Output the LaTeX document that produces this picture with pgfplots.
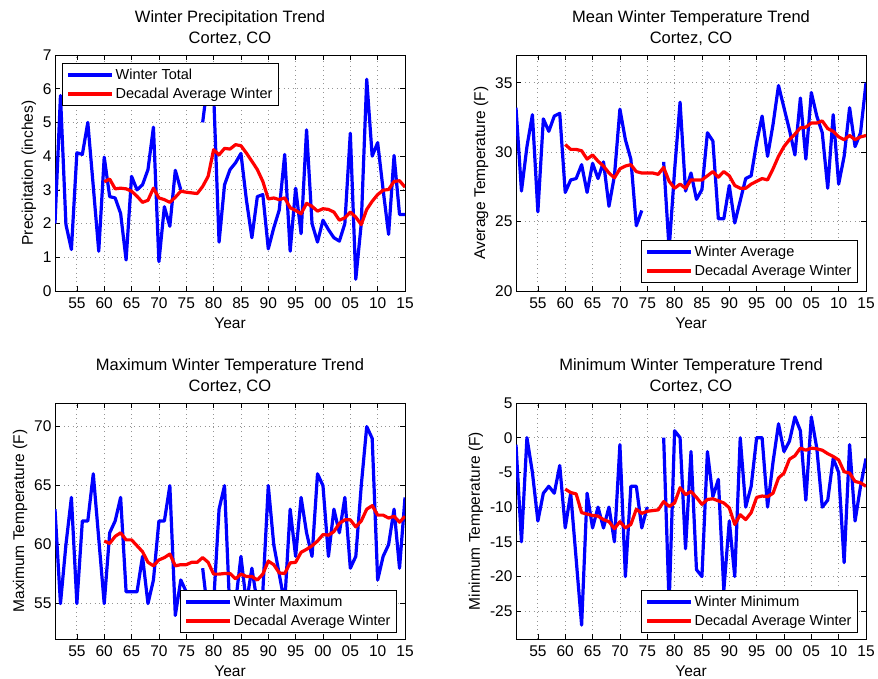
\documentclass[border=0pt]{standalone}
\usepackage{fontspec}
\setmainfont{Liberation Sans}
\usepackage{pgfplots}
\usepackage{pgfplotstable}
\pgfplotsset{compat=1.18}

% winter precipitation (inches)
\pgfplotstableread{
year tot dec
1951 2.0 nan
1952 5.8 nan
1953 1.97 nan
1954 1.23 nan
1955 4.1 nan
1956 4.05 nan
1957 5.0 nan
1958 3.1 nan
1959 1.18 nan
1960 3.97 3.24
1961 2.8 3.32
1962 2.76 3.03
1963 2.3 3.05
1964 0.92 3.03
1965 3.4 2.96
1966 3.0 2.81
1967 3.15 2.63
1968 3.6 2.69
1969 4.86 3.05
1970 0.87 2.76
1971 2.5 2.71
1972 1.92 2.63
1973 3.58 2.78
1974 3.0 2.96
1975 nan 2.93
1976 nan 2.91
1977 nan 2.89
1978 5.0 3.1
1979 6.3 3.4
1980 5.9 4.19
1981 1.45 4.04
1982 3.15 4.23
1983 3.6 4.21
1984 3.8 4.34
1985 4.08 4.31
1986 2.7 4.09
1987 1.58 3.85
1988 2.8 3.6
1989 2.86 3.25
1990 1.25 2.73
1991 1.87 2.76
1992 2.4 2.71
1993 4.05 2.76
1994 1.18 2.47
1995 3.05 2.39
1996 1.7 2.29
1997 4.78 2.6
1998 2.0 2.51
1999 1.45 2.37
2000 2.1 2.44
2001 1.82 2.42
2002 1.58 2.34
2003 1.48 2.1
2004 2.0 2.17
2005 4.68 2.34
2006 0.35 2.19
2007 2.0 1.97
2008 6.28 2.42
2009 4.0 2.66
2010 4.4 2.86
2011 3.0 2.99
2012 1.68 3.01
2013 4.02 3.25
2014 2.27 3.27
2015 2.27 3.08
}\precip

% mean winter temperature (F)
\pgfplotstableread{
year avg dec
1951 33.2 nan
1952 27.2 nan
1953 30.4 nan
1954 32.7 nan
1955 25.7 nan
1956 32.4 nan
1957 31.5 nan
1958 32.6 nan
1959 32.8 nan
1960 27.1 30.55
1961 28.0 30.2
1962 28.1 30.2
1963 29.1 30.1
1964 27.1 29.5
1965 29.2 29.8
1966 28.1 29.35
1967 29.3 29.0
1968 26.1 28.5
1969 28.3 28.15
1970 33.1 28.8
1971 30.9 29.0
1972 29.5 29.1
1973 24.7 28.6
1974 25.8 28.5
1975 nan 28.5
1976 nan 28.5
1977 nan 28.4
1978 29.3 28.9
1979 23.0 27.9
1980 28.7 27.4
1981 33.6 27.7
1982 27.2 27.4
1983 28.5 28.0
1984 26.6 28.0
1985 27.3 28.0
1986 31.4 28.3
1987 30.8 28.6
1988 25.2 28.2
1989 25.2 28.6
1990 27.6 28.3
1991 24.9 27.6
1992 26.5 27.4
1993 28.1 27.4
1994 28.3 27.7
1995 30.7 27.9
1996 32.6 28.1
1997 29.7 28.0
1998 32.0 28.8
1999 34.8 29.7
2000 33.2 30.4
2001 31.6 30.9
2002 29.8 31.3
2003 33.9 31.75
2004 29.5 31.8
2005 34.3 32.1
2006 32.6 32.1
2007 31.4 32.25
2008 27.4 31.7
2009 32.7 31.5
2010 27.7 31.1
2011 29.7 30.9
2012 33.2 31.2
2013 30.4 30.9
2014 31.4 31.1
2015 35.0 31.2
}\meantemp

% maximum winter temperature (F)
\pgfplotstableread{
year max dec
1951 63 nan
1952 55 nan
1953 60 nan
1954 64 nan
1955 55 nan
1956 62 nan
1957 62 nan
1958 66 nan
1959 60.5 nan
1960 55 60.3
1961 61 60.1
1962 62 60.7
1963 64 61.0
1964 56 60.4
1965 56 60.4
1966 56 59.9
1967 59 59.4
1968 55 58.5
1969 57 58.2
1970 62 58.7
1971 62 58.9
1972 65 59.2
1973 54 58.2
1974 57 58.3
1975 56 58.3
1976 nan 58.5
1977 nan 58.5
1978 58 58.9
1979 54 58.5
1980 55 57.5
1981 63 57.5
1982 65 57.55
1983 54 57.55
1984 55 57.1
1985 59 57.5
1986 55 57.3
1987 58 57.3
1988 55 57.0
1989 56 57.5
1990 65 58.6
1991 60 58.3
1992 57.5 57.6
1993 55 57.55
1994 63 58.45
1995 59 58.5
1996 64 59.35
1997 61 59.6
1998 59 59.9
1999 66 60.3
2000 65 60.85
2001 59 60.8
2002 63 61.1
2003 61 61.8
2004 64 62.1
2005 58 62.1
2006 59 61.5
2007 65 62.0
2008 70 63.0
2009 69 63.3
2010 57 62.5
2011 59 62.5
2012 60 62.25
2013 63 62.4
2014 58 61.9
2015 64 62.4
}\maxtemp

% minimum winter temperature (F)
\pgfplotstableread{
year min dec
1951 -1 nan
1952 -15 nan
1953 0 nan
1954 -5 nan
1955 -12 nan
1956 -8 nan
1957 -7 nan
1958 -8 nan
1959 -4 nan
1960 -13 -7.4
1961 -8 -7.9
1962 -17.5 -8.1
1963 -27 -10.8
1964 -8 -11.0
1965 -13 -11.2
1966 -10 -11.3
1967 -13 -11.8
1968 -10 -12.1
1969 -15 -13.1
1970 -1 -12.1
1971 -20 -13.0
1972 -7 -12.5
1973 -7 -10.3
1974 -13 -10.9
1975 -10 -10.6
1976 nan -10.5
1977 nan -10.4
1978 0 -9.2
1979 -24 -9.9
1980 1 -9.4
1981 0 -7.2
1982 -16 -8.2
1983 -2 -7.75
1984 -19 -8.6
1985 -20 -9.6
1986 -2 -8.9
1987 -8.5 -8.8
1988 -6 -9.1
1989 -22 -9.4
1990 -12 -10.1
1991 -20 -12.5
1992 0 -11.1
1993 -10 -11.8
1994 -7 -10.8
1995 0 -8.6
1996 0 -8.4
1997 -10 -8.5
1998 -3.5 -8.0
1999 2 -5.8
2000 -2 -5.1
2001 -0.5 -3.1
2002 3 -2.6
2003 1 -1.5
2004 -9 -1.8
2005 3 -1.5
2006 -1.5 -1.6
2007 -10 -1.8
2008 -9 -2.3
2009 -3 -2.7
2010 -5 -3.2
2011 -18 -4.9
2012 -1 -5.1
2013 -12 -6.3
2014 -7 -6.5
2015 -3 -7.0
}\mintemp

\pgfplotsset{
  panel/.style={
    scale only axis, width=350pt, height=236pt,
    xmin=1951, xmax=2015,
    xtick={1955,1960,...,2015},
    xticklabels={55,60,65,70,75,80,85,90,95,00,05,10,15},
    grid=major,
    grid style={line width=0.8pt, gray!85, dash pattern=on 0.8pt off 3.6pt},
    axis line style={line width=0.8pt},
    major tick length=5pt,
    tick style={line width=0.7pt, black},
    tick label style={font=\fontsize{15.5}{17}\selectfont},
    xticklabel style={yshift=-3pt},
    label style={font=\fontsize{15.5}{17}\selectfont},
    xlabel style={yshift=-2pt},
    title style={font=\fontsize{16.5}{21}\selectfont, align=center},
    xlabel={Year},
    /pgf/number format/assume math mode=true,
    unbounded coords=jump,
    legend cell align=left,
    legend style={font=\fontsize{14.5}{19}\selectfont, draw=black, line width=0.8pt,
      inner xsep=4pt, inner ysep=3.5pt, row sep=3pt},
    legend image code/.code={\draw[#1] (0pt,0pt) -- (44pt,0pt);},
  },
  blueline/.style={blue, line width=3.2pt, line join=round},
  redline/.style={red, line width=3.2pt, line join=round},
}

\begin{document}
\begin{tikzpicture}
\useasboundingbox (0,0) rectangle (878pt,678pt);

\begin{axis}[panel, at={(55pt,623pt)}, anchor=north west,
  title={Winter Precipitation Trend\\Cortez, CO},
  ylabel={Precipitation (inches)},
  ymin=0, ymax=7, ytick={0,1,...,7},
  legend style={at={(0.02,0.966)}, anchor=north west}]
\addplot[blueline] table[x=year, y=tot] {\precip};
\addplot[redline] table[x=year, y=dec] {\precip};
\legend{Winter Total, Decadal Average Winter}
\end{axis}

\begin{axis}[panel, at={(516pt,623pt)}, anchor=north west,
  title={Mean Winter Temperature Trend\\Cortez, CO},
  ylabel={Average Temperature (F)},
  ymin=20, ymax=37, ytick={20,25,30,35},
  legend style={at={(0.977,0.034)}, anchor=south east}]
\addplot[blueline] table[x=year, y=avg] {\meantemp};
\addplot[redline] table[x=year, y=dec] {\meantemp};
\legend{Winter Average, Decadal Average Winter}
\end{axis}

\begin{axis}[panel, at={(55pt,275pt)}, anchor=north west,
  title={Maximum Winter Temperature Trend\\Cortez, CO},
  ylabel={Maximum Temperature (F)},
  ymin=52, ymax=72, ytick={55,60,65,70},
  legend style={at={(0.977,0.026)}, anchor=south east}]
\addplot[blueline] table[x=year, y=max] {\maxtemp};
\addplot[redline] table[x=year, y=dec] {\maxtemp};
\legend{Winter Maximum, Decadal Average Winter}
\end{axis}

\begin{axis}[panel, at={(516pt,275pt)}, anchor=north west,
  title={Minimum Winter Temperature Trend\\Cortez, CO},
  ylabel={Minimum Temperature (F)},
  ymin=-29, ymax=5, ytick={-25,-20,...,5},
  legend style={at={(0.977,0.026)}, anchor=south east}]
\addplot[blueline] table[x=year, y=min] {\mintemp};
\addplot[redline] table[x=year, y=dec] {\mintemp};
\legend{Winter Minimum, Decadal Average Winter}
\end{axis}
\end{tikzpicture}
\end{document}
